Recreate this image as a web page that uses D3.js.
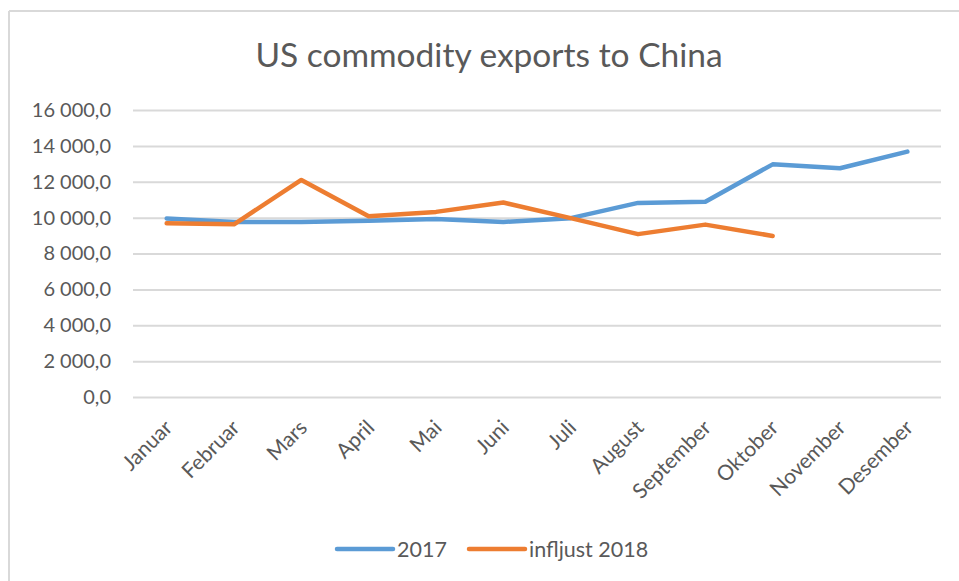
<!DOCTYPE html>
<html>
<head>
<meta charset="utf-8">
<script src="https://cdn.jsdelivr.net/npm/d3@7"></script>
<style>
  html, body { margin: 0; padding: 0; background: #fff; }
  svg { display: block; }
  text { font-family: Lato, "Open Sans", "Liberation Sans", sans-serif; fill: #595959; }
</style>
</head>
<body>
<svg id="chart" width="959" height="581"></svg>
<script>
// Monthly US commodity exports to China
const months = ["Januar", "Februar", "Mars", "April", "Mai", "Juni", "Juli",
                "August", "September", "Oktober", "November", "Desember"];
const values2017 = [9950, 9750, 9760, 9830, 9930, 9760, 9970, 10820, 10890, 12970, 12750, 13680];
const values2018 = [9690, 9630, 12100, 10080, 10320, 10840, 9970, 9080, 9610, 8980];
const yTicks = [0, 2000, 4000, 6000, 8000, 10000, 12000, 14000, 16000];
const seriesNames = ["2017", "infljust 2018"];
const seriesColors = ["#5B9BD5", "#ED7D31"];

const svg = d3.select("#chart");
const W = 959, H = 581;

// Chart frame (top and left edges)
svg.append("line").attr("x1", 9).attr("x2", W).attr("y1", 11).attr("y2", 11)
  .attr("stroke", "#d9d9d9").attr("stroke-width", 2);
svg.append("line").attr("x1", 9).attr("x2", 9).attr("y1", 11).attr("y2", H)
  .attr("stroke", "#d9d9d9").attr("stroke-width", 2);

const plot = { left: 133, right: 941, top: 110, bottom: 397 };

const x = d3.scaleBand().domain(months).range([plot.left, plot.right]);
const y = d3.scaleLinear().domain([0, 16000]).range([plot.bottom, plot.top]);

// Title
svg.append("text")
  .attr("x", 489).attr("y", 67)
  .attr("text-anchor", "middle")
  .style("font-size", "33.5px")
  .text("US commodity exports to China");

// Horizontal gridlines and value labels
const fmt = v => {
  const s = d3.format(",.1f")(v);
  return s.replace(/,/g, "\u2009\u2009").replace(".", ",");
};
const yAxis = d3.axisLeft(y).tickValues(yTicks).tickSize(-(plot.right - plot.left))
  .tickPadding(22).tickFormat(fmt);
const gy = svg.append("g").attr("transform", `translate(${plot.left},0)`).call(yAxis);
gy.select(".domain").remove();
gy.selectAll(".tick line").attr("stroke", "#d9d9d9").attr("stroke-width", 2);
gy.selectAll(".tick text").style("font-size", "20px").attr("fill", "#595959");

// Category labels, rotated
const xAxis = d3.axisBottom(x).tickSize(0).tickPadding(0);
const gx = svg.append("g").attr("transform", `translate(0,${plot.bottom})`).call(xAxis);
gx.select(".domain").remove();
gx.selectAll(".tick text")
  .style("font-size", "21px")
  .attr("fill", "#595959")
  .attr("text-anchor", "end")
  .attr("dy", null)
  .attr("transform", "translate(7,32) rotate(-45)");

// Lines
const line = d3.line()
  .x((d, i) => x(months[i]) + x.bandwidth() / 2)
  .y(d => y(d));

[values2017, values2018].forEach((vals, k) => {
  svg.append("path")
    .datum(vals)
    .attr("fill", "none")
    .attr("stroke", seriesColors[k])
    .attr("stroke-width", 4.5)
    .attr("stroke-linejoin", "round")
    .attr("stroke-linecap", "round")
    .attr("d", line);
});

// Legend
const legendItems = [
  { x: 337, name: seriesNames[0], color: seriesColors[0] },
  { x: 469, name: seriesNames[1], color: seriesColors[1] }
];
const lg = svg.append("g");
legendItems.forEach(it => {
  lg.append("line")
    .attr("x1", it.x).attr("x2", it.x + 56)
    .attr("y1", 549).attr("y2", 549)
    .attr("stroke", it.color).attr("stroke-width", 4.5)
    .attr("stroke-linecap", "round");
  lg.append("text")
    .attr("x", it.x + 60).attr("y", 556.5)
    .style("font-size", "21.5px")
    .text(it.name);
});
</script>
</body>
</html>
